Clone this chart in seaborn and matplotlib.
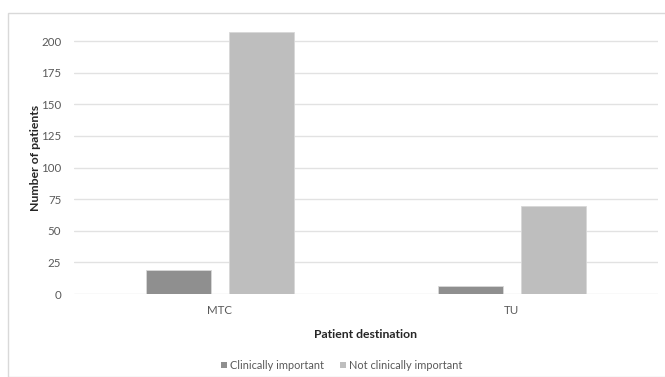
import matplotlib
matplotlib.use("Agg")
import matplotlib.pyplot as plt
from matplotlib.patches import Rectangle
import pandas as pd
import seaborn as sns

destinations = ["MTC", "TU"]
clinically_important = [19, 6]
not_clinically_important = [207, 70]
series_labels = ["Clinically important", "Not clinically important"]
y_ticks = [0, 25, 50, 75, 100, 125, 150, 175, 200]

df = pd.DataFrame({
    "destination": destinations * 2,
    "group": [series_labels[0]] * 2 + [series_labels[1]] * 2,
    "count": clinically_important + not_clinically_important,
})

sns.set_theme(style="white")
plt.rcParams["font.family"] = ["Lato", "DejaVu Sans"]

fig = plt.figure(figsize=(6.65, 3.77), dpi=100)
ax = fig.add_axes([0.111, 0.220, 0.878, 0.7215])

sns.barplot(data=df, x="destination", y="count", hue="group",
            order=destinations, hue_order=series_labels,
            palette=["#8f8f8f", "#bebebe"], width=0.57, gap=0.22,
            edgecolor="#d8d8d8", linewidth=0.6, ax=ax, legend=True)

ax.set_ylim(0, 215)
ax.set_yticks(y_ticks)
ax.yaxis.grid(True, color="#e2e2e2", linewidth=1)
ax.set_axisbelow(True)
for s in ax.spines.values():
    s.set_visible(False)
ax.tick_params(axis="both", length=0, labelsize=8.3, labelcolor="#595959")
ax.tick_params(axis="y", pad=9)
ax.tick_params(axis="x", pad=8)
ax.set_xlabel("Patient destination", fontsize=8.8, fontweight="bold", labelpad=9)
ax.set_ylabel("Number of patients", fontsize=8.8, fontweight="bold", labelpad=0)

ax.legend(loc="upper center", bbox_to_anchor=(0.459, -0.205), ncol=2,
          frameon=False, fontsize=7.9, handlelength=0.55, handleheight=0.55,
          handletextpad=0.25, columnspacing=1.5, labelcolor="#595959")
leg = ax.get_legend()
for h in leg.legend_handles:
    h.set_edgecolor("none")

fig.patches.append(Rectangle((8 / 665, 0), 1, 1 - 13 / 377, transform=fig.transFigure,
                             fill=False, edgecolor="#d9d9d9", linewidth=1))

fig.savefig("out.png", dpi=100)
